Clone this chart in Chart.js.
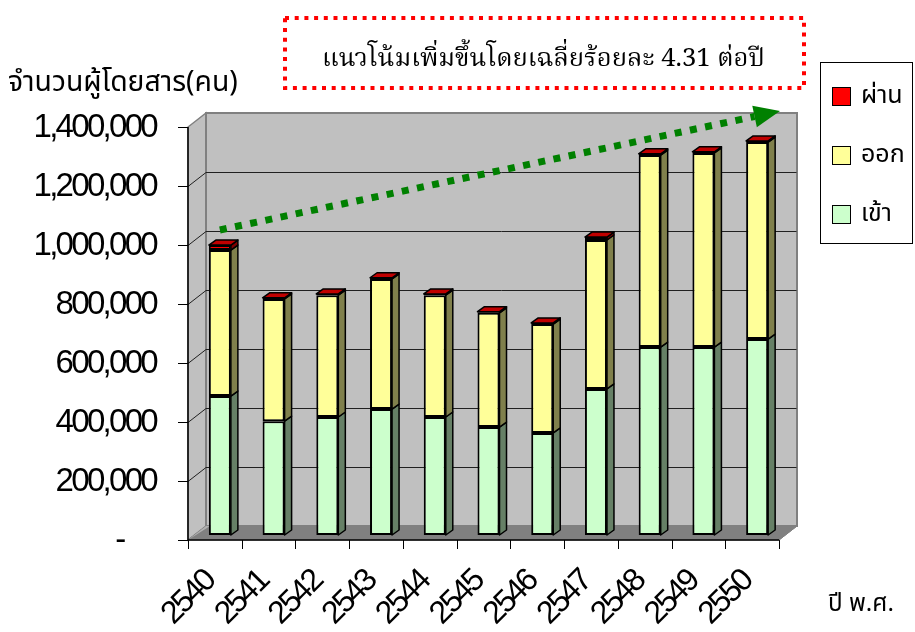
<!DOCTYPE html>
<html><head><meta charset="utf-8">
<script src="https://cdn.jsdelivr.net/npm/chart.js@4/dist/chart.umd.min.js"></script>
<style>html,body{margin:0;padding:0;background:#fff}#wrap{width:915px;height:632px;position:relative}</style>
</head><body><div id="wrap"><canvas id="c" width="915" height="632"></canvas></div>
<script>
// ---- data ----
const categories = ['2540','2541','2542','2543','2544','2545','2546','2547','2548','2549','2550'];
const inbound  = [471000, 386000, 400000, 427000, 400000, 366000, 346000, 495000, 637000, 637000, 664000]; // เข้า
const outbound = [495000, 414000, 413000, 441000, 413000, 387000, 369000, 505000, 651000, 658000, 668000]; // ออก
const transit  = [17000, 4000, 4000, 4000, 4000, 4000, 4000, 10000, 4000, 4000, 4000];                     // ผ่าน
const seriesNames = ['เข้า', 'ออก', 'ผ่าน'];
const yTickValues = [0, 200000, 400000, 600000, 800000, 1000000, 1200000, 1400000];
const trendFrom = 1034000;   // trend arrow start value (at 2540)
const trendTo = 1437000;     // trend arrow end value (right edge)
const noteText = 'แนวโน้มเพิ่มขึ้นโดยเฉลี่ยร้อยละ 4.31 ต่อปี';
const yTitle = 'จำนวนผู้โดยสาร(คน)';
const xTitle = 'ปี พ.ศ.';

// ---- styling ----
const THAI = "'Noto Sans Thai','Loma','Garuda','Tahoma','Noto Sans',sans-serif";
const THAI_SERIF = "'Noto Serif Thai','Liberation Serif','Noto Sans Thai',serif";
const NUM = "'Liberation Sans Narrow','Arial Narrow','Liberation Sans',sans-serif";
const faceColors = ['#CCFFCC', '#FFFF99', '#FF0000'];
const sideColors = ['#668066', '#80804C', '#800000'];
const topColor = '#C00000';
const WALL = {dx: 13, dy: -9};     // back wall offset from bar plane
const FRONT = {dx: -5, dy: 5};     // front axis offset from bar plane
const DEPTH = {dx: 7, dy: -5};     // bar depth

function poly(ctx, pts, fill, stroke, lw) {
  ctx.beginPath();
  ctx.moveTo(pts[0][0], pts[0][1]);
  for (let i = 1; i < pts.length; i++) ctx.lineTo(pts[i][0], pts[i][1]);
  ctx.closePath();
  if (fill) { ctx.fillStyle = fill; ctx.fill(); }
  if (stroke) { ctx.strokeStyle = stroke; ctx.lineWidth = lw || 1; ctx.stroke(); }
}
function fitFont(ctx, text, family, width, maxSize) {
  let s = maxSize;
  ctx.font = s + 'px ' + family;
  const w = ctx.measureText(text).width;
  s = Math.min(maxSize, s * width / w);
  return s;
}

const frame3d = {
  id: 'frame3d',
  beforeDraw(chart) {
    // condensed tick numbers, like the original
    chart.ctx.letterSpacing = '-2.7px';
  },
  beforeDatasetsDraw(chart) {
    const {ctx, chartArea: a, scales: {x, y}} = chart;
    ctx.letterSpacing = '0px';
    const L = a.left, R = a.right, B = a.bottom, T = a.top;
    ctx.save();
    // left wall
    poly(ctx, [[L+FRONT.dx, B+FRONT.dy], [L+FRONT.dx, T+FRONT.dy], [L+WALL.dx, T+WALL.dy], [L+WALL.dx, B+WALL.dy]], '#C0C0C0', '#808080', 1.5);
    // back wall
    poly(ctx, [[L+WALL.dx, B+WALL.dy], [L+WALL.dx, T+WALL.dy], [R+WALL.dx, T+WALL.dy], [R+WALL.dx, B+WALL.dy]], '#C0C0C0', '#808080', 2);
    // gridlines
    ctx.strokeStyle = '#202020'; ctx.lineWidth = 1;
    yTickValues.forEach(v => {
      if (v === 0 || v === yTickValues[yTickValues.length-1]) return;
      const py = Math.round(y.getPixelForValue(v)) + 0.5;
      ctx.beginPath();
      ctx.moveTo(L+FRONT.dx, py+FRONT.dy);
      ctx.lineTo(L+WALL.dx, py+WALL.dy);
      ctx.lineTo(R+WALL.dx, py+WALL.dy);
      ctx.stroke();
    });
    // floor
    poly(ctx, [[L+FRONT.dx, B+FRONT.dy], [R+FRONT.dx, B+FRONT.dy], [R+WALL.dx, B+WALL.dy], [L+WALL.dx, B+WALL.dy]], '#808080', '#808080', 1);
    poly(ctx, [[L+FRONT.dx, B+FRONT.dy], [L+WALL.dx, B+WALL.dy], [L+WALL.dx+4, B+WALL.dy]], '#B0B0B0', null);
    // front axes
    ctx.strokeStyle = '#000'; ctx.lineWidth = 1.5;
    ctx.beginPath();
    ctx.moveTo(L+FRONT.dx, T+FRONT.dy); ctx.lineTo(L+FRONT.dx, B+FRONT.dy); ctx.lineTo(R+FRONT.dx, B+FRONT.dy);
    ctx.stroke();
    ctx.lineWidth = 1;
    ctx.strokeStyle = '#000';
    yTickValues.forEach(v => {
      const py = Math.round(y.getPixelForValue(v)) + 0.5 + FRONT.dy;
      ctx.beginPath(); ctx.moveTo(L+FRONT.dx-10, py); ctx.lineTo(L+FRONT.dx, py); ctx.stroke();
    });
    const step = (R - L) / categories.length;
    for (let i = 0; i <= categories.length; i++) {
      const px = Math.round(L + FRONT.dx + i * step) + 0.5;
      ctx.beginPath(); ctx.moveTo(px, B+FRONT.dy); ctx.lineTo(px, B+FRONT.dy+9); ctx.stroke();
    }
    ctx.strokeStyle = '#808080';
    ctx.beginPath(); ctx.moveTo(R+FRONT.dx, B+FRONT.dy); ctx.lineTo(R+WALL.dx, B+WALL.dy); ctx.lineTo(R+WALL.dx, T+WALL.dy); ctx.stroke();
    ctx.restore();
  },
  afterDatasetsDraw(chart) {
    const {ctx} = chart;
    ctx.save();
    ctx.lineJoin = 'round';
    const n = chart.data.datasets.length;
    for (let d = 0; d < n; d++) {
      const meta = chart.getDatasetMeta(d);
      meta.data.forEach(el => {
        const p = el.getProps(['x', 'y', 'base', 'width'], true);
        const xr = p.x + p.width / 2, xl = p.x - p.width / 2;
        const top = Math.min(p.y, p.base), bot = Math.max(p.y, p.base);
        poly(ctx, [[xr, top], [xr+DEPTH.dx, top+DEPTH.dy], [xr+DEPTH.dx, bot+DEPTH.dy], [xr, bot]], sideColors[d], '#000', 1.5);
        if (d === n - 1) {
          poly(ctx, [[xl, top], [xl+DEPTH.dx, top+DEPTH.dy], [xr+DEPTH.dx, top+DEPTH.dy], [xr, top]], topColor, '#000', 1.5);
        }
      });
    }
    ctx.restore();
  },
  afterDraw(chart) {
    const {ctx, chartArea: a, scales: {x, y}} = chart;
    ctx.save();
    ctx.letterSpacing = '0px';
    // trend arrow
    const x0 = x.getPixelForValue(0), y0 = y.getPixelForValue(trendFrom);
    const x1 = a.right - 4, y1 = y.getPixelForValue(trendTo);
    const ang = Math.atan2(y1 - y0, x1 - x0);
    const headLen = 26, headW = 11;
    const bx = x1 - headLen * Math.cos(ang), by = y1 - headLen * Math.sin(ang);
    ctx.strokeStyle = '#008000'; ctx.lineWidth = 7; ctx.setLineDash([7, 8.5]);
    ctx.beginPath(); ctx.moveTo(x0, y0); ctx.lineTo(bx, by); ctx.stroke();
    ctx.setLineDash([]);
    poly(ctx, [[x1, y1], [bx + headW*Math.sin(ang), by - headW*Math.cos(ang)], [bx - headW*Math.sin(ang), by + headW*Math.cos(ang)]], '#008000', null);
    // note box
    ctx.strokeStyle = '#FF0000'; ctx.lineWidth = 4; ctx.setLineDash([4, 5.7]);
    ctx.strokeRect(285, 18, 519, 70);
    ctx.setLineDash([]);
    ctx.fillStyle = '#000'; ctx.textBaseline = 'alphabetic'; ctx.textAlign = 'left';
    let fs = fitFont(ctx, noteText, THAI_SERIF, 443, 32);
    ctx.font = fs + 'px ' + THAI_SERIF;
    ctx.fillText(noteText, 322, 66);
    // axis titles
    fs = fitFont(ctx, yTitle, THAI, 230, 30);
    ctx.font = fs + 'px ' + THAI;
    ctx.fillText(yTitle, 8, 91);
    fs = fitFont(ctx, xTitle, THAI, 66, 26);
    ctx.font = fs + 'px ' + THAI;
    ctx.fillText(xTitle, 828, 611);
    // legend
    ctx.strokeStyle = '#000'; ctx.lineWidth = 1;
    ctx.fillStyle = '#fff';
    ctx.fillRect(820.5, 62.5, 92, 181);
    ctx.strokeRect(820.5, 62.5, 92, 181);
    const ds = chart.data.datasets;
    const rowsY = [97, 156, 215];
    ctx.font = '25px ' + THAI;
    ds.slice().reverse().forEach((d, i) => {
      const cy = rowsY[i];
      ctx.fillStyle = d.backgroundColor;
      ctx.fillRect(832.5, cy - 9.5, 18, 18);
      ctx.strokeRect(832.5, cy - 9.5, 18, 18);
      ctx.fillStyle = '#000';
      ctx.textBaseline = 'middle';
      ctx.fillText(d.label, 861, cy + 1);
    });
    ctx.restore();
  }
};

new Chart(document.getElementById('c'), {
  type: 'bar',
  data: {
    labels: categories,
    datasets: [inbound, outbound, transit].map((vals, i) => ({
      label: seriesNames[i],
      data: vals,
      backgroundColor: faceColors[i],
      borderColor: '#000',
      borderWidth: 2,
      borderSkipped: false,
      categoryPercentage: 1,
      barPercentage: 0.41
    }))
  },
  options: {
    responsive: false,
    animation: false,
    devicePixelRatio: 1,
    layout: {padding: {top: 122, right: 131, left: 0, bottom: 0}},
    plugins: {legend: {display: false}, tooltip: {enabled: false}, title: {display: false}},
    scales: {
      x: {
        stacked: true,
        grid: {display: false},
        border: {display: false},
        afterFit: s => { s.height = 97; },
        ticks: {
          minRotation: 45, maxRotation: 45, autoSkip: false,
          color: '#000', padding: 20, labelOffset: -10,
          font: {family: NUM, size: 32}
        }
      },
      y: {
        stacked: true,
        min: 0, max: 1400000,
        grid: {display: false},
        border: {display: false},
        afterFit: s => { s.width = 193; },
        afterBuildTicks: s => { s.ticks = yTickValues.map(v => ({value: v})); },
        ticks: {
          color: '#000', padding: 29, labelOffset: 6,
          font: {family: NUM, size: 33},
          callback: v => v === 0 ? '-     ' : v.toLocaleString('en-US')
        }
      }
    }
  },
  plugins: [frame3d]
});
</script></body></html>
